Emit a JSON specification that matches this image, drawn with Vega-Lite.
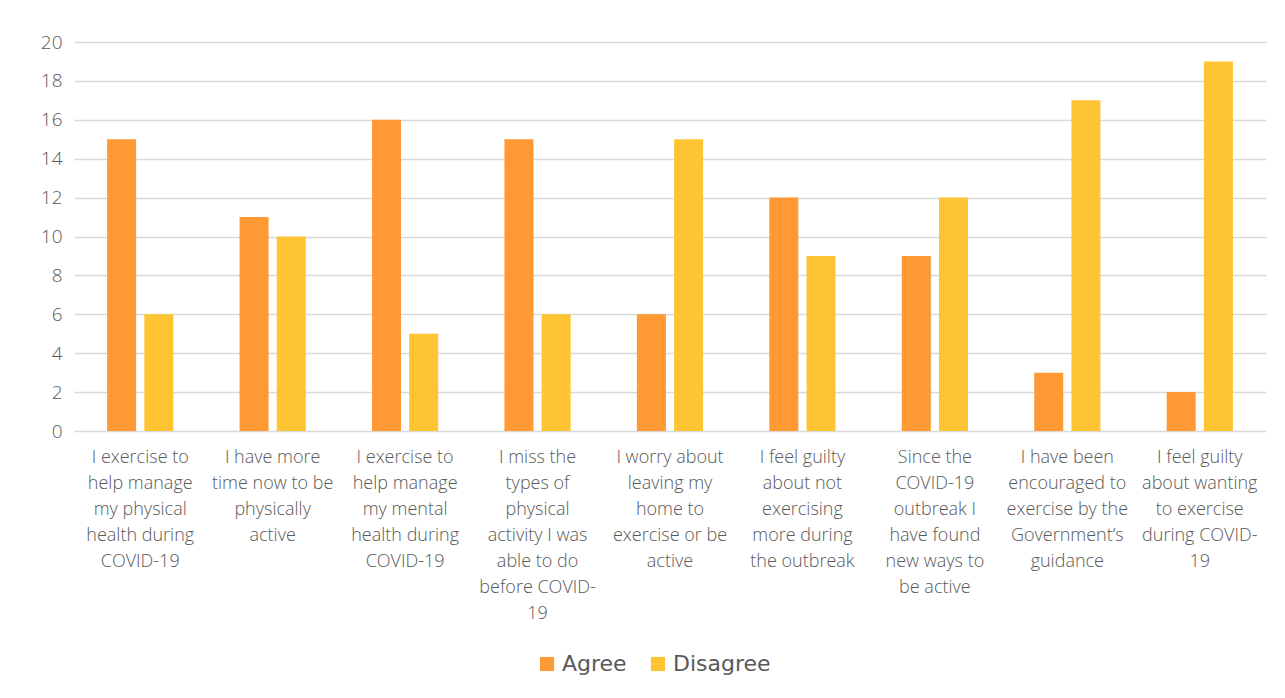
{
  "$schema": "https://vega.github.io/schema/vega-lite/v6.json",
  "width": 1192,
  "height": 389,
  "autosize": {"type": "none"},
  "padding": {"left": 74, "top": 42, "right": 19, "bottom": 267},
  "background": "white",
  "config": {
    "view": {"stroke": null},
    "font": "Open Sans"
  },
  "data": {
    "values": [
      {"statement": "I exercise to|help manage|my physical|health during|COVID-19", "response": "Agree", "count": 15},
      {"statement": "I exercise to|help manage|my physical|health during|COVID-19", "response": "Disagree", "count": 6},
      {"statement": "I have more|time now to be|physically|active", "response": "Agree", "count": 11},
      {"statement": "I have more|time now to be|physically|active", "response": "Disagree", "count": 10},
      {"statement": "I exercise to|help manage|my mental|health during|COVID-19", "response": "Agree", "count": 16},
      {"statement": "I exercise to|help manage|my mental|health during|COVID-19", "response": "Disagree", "count": 5},
      {"statement": "I miss the|types of|physical|activity I was|able to do|before COVID-|19", "response": "Agree", "count": 15},
      {"statement": "I miss the|types of|physical|activity I was|able to do|before COVID-|19", "response": "Disagree", "count": 6},
      {"statement": "I worry about|leaving my|home to|exercise or be|active", "response": "Agree", "count": 6},
      {"statement": "I worry about|leaving my|home to|exercise or be|active", "response": "Disagree", "count": 15},
      {"statement": "I feel guilty|about not|exercising|more during|the outbreak", "response": "Agree", "count": 12},
      {"statement": "I feel guilty|about not|exercising|more during|the outbreak", "response": "Disagree", "count": 9},
      {"statement": "Since the|COVID-19|outbreak I|have found|new ways to|be active", "response": "Agree", "count": 9},
      {"statement": "Since the|COVID-19|outbreak I|have found|new ways to|be active", "response": "Disagree", "count": 12},
      {"statement": "I have been|encouraged to|exercise by the|Government’s|guidance", "response": "Agree", "count": 3},
      {"statement": "I have been|encouraged to|exercise by the|Government’s|guidance", "response": "Disagree", "count": 17},
      {"statement": "I feel guilty|about wanting|to exercise|during COVID-|19", "response": "Agree", "count": 2},
      {"statement": "I feel guilty|about wanting|to exercise|during COVID-|19", "response": "Disagree", "count": 19}
    ]
  },
  "mark": {"type": "bar"},
  "encoding": {
    "x": {
      "field": "statement",
      "type": "nominal",
      "sort": null,
      "scale": {"paddingInner": 0.5, "paddingOuter": 0.25},
      "axis": {
        "title": null,
        "labelAngle": 0,
        "labelExpr": "split(datum.label, '|')",
        "labelFontSize": 18,
        "labelFontWeight": 300,
        "labelColor": "#595959",
        "labelLineHeight": 26,
        "labelBaseline": "top",
        "labelPadding": 17,
        "labelLimit": 200,
        "ticks": false,
        "domain": false,
        "grid": false
      }
    },
    "xOffset": {
      "field": "response",
      "type": "nominal",
      "scale": {"paddingInner": 0.22, "paddingOuter": 0}
    },
    "y": {
      "field": "count",
      "type": "quantitative",
      "scale": {"domain": [0, 20], "nice": false},
      "axis": {
        "title": null,
        "values": [0, 2, 4, 6, 8, 10, 12, 14, 16, 18, 20],
        "labelFontSize": 19,
        "labelFontWeight": 300,
        "labelColor": "#595959",
        "labelPadding": 12,
        "ticks": false,
        "domain": false,
        "grid": true,
        "gridColor": "#d9d9d9",
        "gridWidth": 1.5
      }
    },
    "color": {
      "field": "response",
      "type": "nominal",
      "scale": {"domain": ["Agree", "Disagree"], "range": ["#FF9933", "#FFC433"]},
      "legend": {
        "title": null,
        "orient": "none",
        "legendX": 462,
        "legendY": 611,
        "direction": "horizontal",
        "symbolType": "square",
        "symbolSize": 200,
        "symbolStrokeWidth": 0,
        "labelFontSize": 22,
        "labelColor": "#595959",
        "labelFont": "DejaVu Sans",
        "columnPadding": 20,
        "symbolOffset": 0
      }
    }
  }
}
